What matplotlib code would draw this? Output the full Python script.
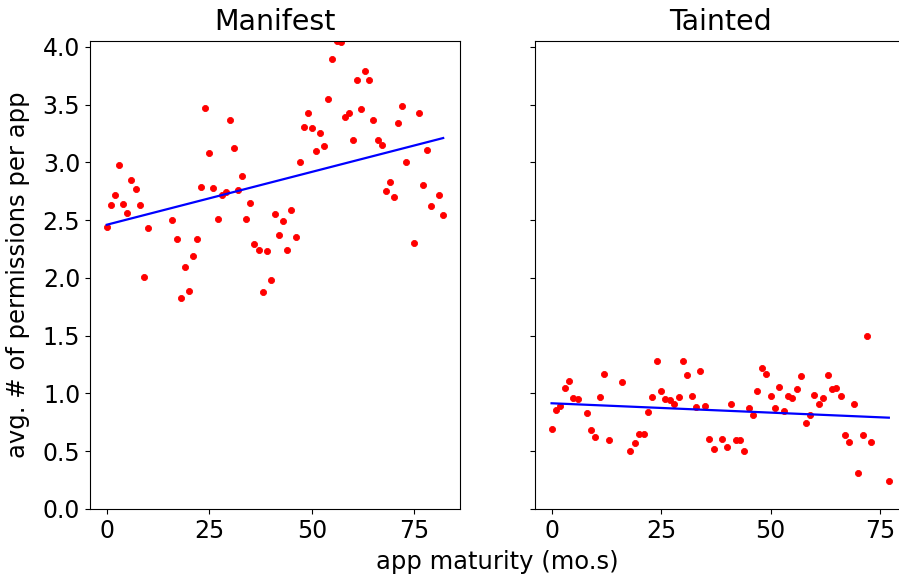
import numpy as np
import matplotlib
matplotlib.use('Agg')
import matplotlib.pyplot as plt

# mois de maturité et moyenne des permissions (Manifest)
mois_manifest = [0, 1, 2, 3, 4, 5, 6, 7, 8, 9, 10,
                 16, 17, 18, 19, 20, 21, 22, 23, 24, 25, 26, 27, 28, 29,
                 30, 31, 32, 33, 34, 35, 36, 37, 38, 39, 40, 41, 42, 43,
                 44, 45, 46, 47, 48, 49, 50, 51, 52, 53, 54, 55, 56, 57,
                 58, 59, 60, 61, 62, 63, 64, 65, 66, 67, 68, 69, 70, 71,
                 72, 73, 75, 76, 77, 78, 79, 81, 82]
perm_manifest = [2.44, 2.63, 2.72, 2.98, 2.64, 2.56, 2.85, 2.77, 2.63, 2.01, 2.43,
                 2.50, 2.34, 1.83, 2.09, 1.89, 2.19, 2.34, 2.79, 3.47, 3.08, 2.78, 2.51, 2.72, 2.74,
                 3.37, 3.12, 2.76, 2.88, 2.51, 2.65, 2.29, 2.24, 1.88, 2.23, 1.98, 2.55, 2.37, 2.49,
                 2.24, 2.59, 2.35, 3.00, 3.31, 3.43, 3.30, 3.10, 3.25, 3.14, 3.55, 3.89, 4.05, 4.04,
                 3.39, 3.43, 3.19, 3.71, 3.46, 3.79, 3.71, 3.37, 3.19, 3.15, 2.75, 2.83, 2.70, 3.34,
                 3.49, 3.00, 2.30, 3.43, 2.80, 3.11, 2.62, 2.72, 2.54]

# même chose pour Tainted
mois_tainted = [0, 1, 2, 3, 4, 5, 6, 8, 9, 10, 11, 12, 13,
                16, 18, 19, 20, 21, 22, 23, 24, 25, 26, 27, 28, 29,
                30, 31, 32, 33, 34, 35, 36, 37, 39, 40, 41, 42, 43,
                44, 45, 46, 47, 48, 49, 50, 51, 52, 53, 54, 55, 56, 57,
                58, 59, 60, 61, 62, 63, 64, 65, 66, 67, 68, 69, 70, 71,
                72, 73, 77]
perm_tainted = [0.69, 0.86, 0.89, 1.05, 1.11, 0.96, 0.95, 0.83, 0.68, 0.62, 0.97, 1.17, 0.60,
                1.10, 0.50, 0.57, 0.65, 0.65, 0.84, 0.97, 1.28, 1.02, 0.95, 0.94, 0.91, 0.97,
                1.28, 1.16, 0.98, 0.88, 1.19, 0.89, 0.61, 0.52, 0.61, 0.54, 0.91, 0.60, 0.60,
                0.50, 0.87, 0.81, 1.02, 1.22, 1.17, 0.98, 0.87, 1.06, 0.85, 0.98, 0.96, 1.04, 1.15,
                0.74, 0.81, 0.99, 0.91, 0.96, 1.16, 1.04, 1.05, 0.98, 0.64, 0.58, 0.91, 0.31, 0.64,
                1.50, 0.58, 0.24]

# droites de tendance (ordonnée à l'origine, pente)
tendance_manifest = (2.46, 0.00915)
tendance_tainted = (0.915, -0.00162)

titres = ['Manifest', 'Tainted']
yticks = [0.0, 0.5, 1.0, 1.5, 2.0, 2.5, 3.0, 3.5, 4.0]

plt.rcParams['font.size'] = 17

fig = plt.figure(figsize=(8.99, 5.79), dpi=100)
ax1 = fig.add_axes([90/899, 70/579, 370/899, 468/579])
ax2 = fig.add_axes([534.7/899, 70/579, 371/899, 468/579], sharey=ax1)

for ax, x, y, (b, a), titre in [(ax1, mois_manifest, perm_manifest, tendance_manifest, titres[0]),
                                (ax2, mois_tainted, perm_tainted, tendance_tainted, titres[1])]:
    x = np.array(x)
    y = np.array(y)
    ax.plot(x, y, 'o', color='r', ms=4.4, mew=0.6)
    xx = np.array([x.min(), x.max()])
    ax.plot(xx, a*xx+b, color='b', lw=1.6)
    ax.set_title(titre, fontsize=20.5, pad=8)
    ax.set_xticks([0, 25, 50, 75])

ax1.set_ylim(0, 4.05)
ax1.set_yticks(yticks)
ax1.set_ylabel('avg. # of permissions per app', fontsize=17.5, labelpad=9)
plt.setp(ax2.get_yticklabels(), visible=False)

fig.text(497/899, 1-562/579, 'app maturity (mo.s)', ha='center', va='center', fontsize=17.5)

fig.savefig('out.png', dpi=100)
